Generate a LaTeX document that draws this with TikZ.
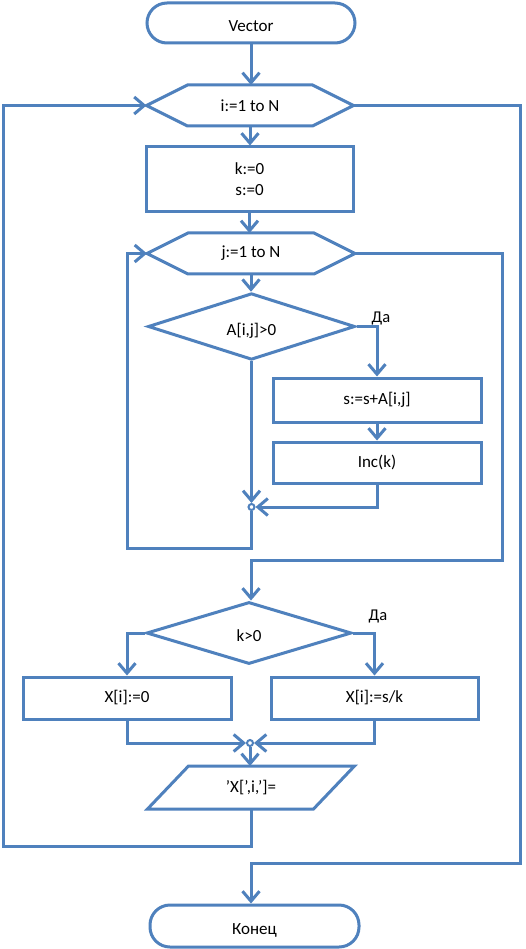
\documentclass[tikz,border=0pt]{standalone}
\usepackage{fontspec}
\setmainfont{Carlito}
\usetikzlibrary{arrows.meta,shapes.geometric}
\definecolor{fc}{RGB}{79,129,189}
\begin{document}
\begin{tikzpicture}[x=1pt,y=-1pt,
  every node/.style={font=\fontsize{17}{21}\selectfont, text=black},
  line/.style={draw=fc,line width=3pt},
  arr/.style={line,-{Straight Barb[length=10pt,width=17pt]}},
  term/.style={draw=fc,line width=3pt,rectangle,rounded corners=20pt,inner sep=0pt,minimum width=208pt,minimum height=40pt},
  box/.style={draw=fc,line width=3pt,rectangle,inner sep=0pt,minimum width=208pt,minimum height=42pt,align=center},
  dia/.style={draw=fc,line width=3pt,diamond,inner sep=0pt,minimum width=207pt,minimum height=61pt},
  ghost/.style={rectangle,inner sep=0pt,outer sep=0pt,minimum width=207pt,minimum height=41pt},
  junc/.style={draw=fc,line width=2pt,circle,fill=white,inner sep=0pt,minimum size=6pt},
  low/.style={text height=17pt,text depth=0pt},
  lab/.style={font=\fontsize{16.5}{18}\selectfont}
]
\useasboundingbox (0,0) rectangle (526,949);
\fill[white] (0,0) rectangle (526,949);

% nodes
\node[term,low] (vec) at (251,23) {Vector};
\node[ghost] (h1) at (250,105.5) {i:=1 to N};
\node[box,minimum width=207pt,minimum height=65pt] (init) at (249.5,179.5) {k:=0\\s:=0};
\node[ghost,minimum width=208pt] (h2) at (251,253.5) {j:=1 to N};
\node[dia,low] (d1) at (251.5,326.5) {A[i,j]>0};
\node[box,minimum height=44pt] (s1) at (377,400) {s:=s+A[i,j]};
\node[box,minimum height=41pt] (inc) at (377,462.5) {Inc(k)};
\node[junc] (j1) at (251.5,507) {};
\node[dia,low,minimum width=205pt,minimum height=62pt] (d2) at (249,633) {k>0};
\node[box] (x0) at (127,698) {X[i]:=0};
\node[box,minimum width=207pt] (xs) at (374.5,698) {X[i]:=s/k};
\node[junc] (j2) at (250,743) {};
\node[ghost,minimum height=43pt] (out) at (251,787.5) {'X[',i,']=};
\node[term,low,minimum width=209pt,minimum height=42pt] (end) at (254.5,926) {Конец};
\node[lab] (da1) at (381,318) {Да};
\node[lab] (da2) at (378,616) {Да};

% hexagon and parallelogram outlines
\draw[line,line join=miter] (h1.west) -- ([xshift=41pt]h1.north west) -- ([xshift=-41pt]h1.north east) -- (h1.east) -- ([xshift=-41pt]h1.south east) -- ([xshift=41pt]h1.south west) -- cycle;
\draw[line,line join=miter] (h2.west) -- ([xshift=41pt]h2.north west) -- ([xshift=-41pt]h2.north east) -- (h2.east) -- ([xshift=-41pt]h2.south east) -- ([xshift=41pt]h2.south west) -- cycle;
\draw[line,line join=miter] ([xshift=41pt]out.north west) -- (out.north east) -- ([xshift=-41pt]out.south east) -- (out.south west) -- cycle;

% corner coordinates
\coordinate (c1) at (251.5,548);
\coordinate (c2) at (127,548);
\coordinate (c3) at (127,253.5);
\coordinate (c4) at (502,253.5);
\coordinate (c5) at (502,560);
\coordinate (c6) at (251,560);
\coordinate (c7) at (251,846);
\coordinate (c8) at (3,846);
\coordinate (c9) at (3,105.5);
\coordinate (c10) at (520,105.5);
\coordinate (c11) at (520,863);
\coordinate (c12) at (251,863);

% connectors
\draw[arr] (vec.south) -- (vec.south |- h1.north);
\draw[arr] (h1.south) -- (h1.south |- init.north);
\draw[arr] (init.south) -- (init.south |- h2.north);
\draw[arr] (h2.south) -- (h2.south |- d1.north);
\draw[arr] (d1.east) -| (s1.north);
\draw[arr] (s1.south) -- (inc.north);
\draw[arr] (inc.south) |- (j1.east);
\draw[arr] (d1.south) -- (j1.north);
\draw[arr] (j1.south) -- (c1) -- (c2) -- (c3) -- (h2.west);
\draw[arr] (h2.east) -- (c4) -- (c5) -- (c6) -- (c6 |- d2.north);
\draw[arr] (d2.west) -| (x0.north);
\draw[arr] (d2.east) -| (xs.north);
\draw[arr] (x0.south) |- (j2.west);
\draw[arr] (xs.south) |- (j2.east);
\draw[arr] (j2.south) -- (j2.south |- out.north);
\draw[arr] (out.south) -- (c7) -- (c8) -- (c9) -- (h1.west);
\draw[arr] (h1.east) -- (c10) -- (c11) -- (c12) -- (c12 |- end.north);
\end{tikzpicture}
\end{document}
